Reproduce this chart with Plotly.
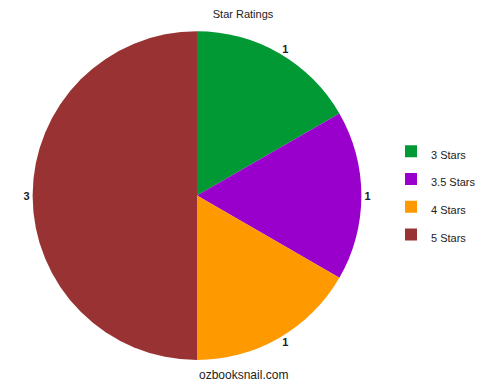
import plotly.graph_objects as go

labels = ["3 Stars", "3.5 Stars", "4 Stars", "5 Stars"]
values = [1, 1, 1, 3]
colors = ["#009933", "#9900cc", "#ff9900", "#993333"]

legend_labels = [f"<span style='font-size:11px'>{l}</span>" for l in labels]

fig = go.Figure(go.Pie(
    labels=legend_labels,
    values=values,
    marker=dict(colors=colors),
    sort=False,
    direction="clockwise",
    rotation=0,
    textposition="outside",
    texttemplate="<b>%{value}</b>",
    hovertemplate="%{label}: %{value}<extra></extra>",
    textfont=dict(family="Liberation Sans, Arial", size=11, color="#222222"),
    domain=dict(x=[0.064, 0.724], y=[0.065, 0.919]),
    showlegend=True,
))

fig.update_layout(
    width=500, height=385,
    margin=dict(l=0, r=0, t=0, b=0),
    paper_bgcolor="white",
    plot_bgcolor="white",
    title=dict(text="Star Ratings", x=0.486, xanchor="center", y=0.963, yanchor="middle",
               font=dict(family="Liberation Sans, Arial", size=11, color="#222222")),
    legend=dict(x=391/500, y=1 - 193/385, xanchor="left", yanchor="middle",
                font=dict(family="Liberation Sans, Arial", size=19, color="#222222")),
    annotations=[dict(text="ozbooksnail.com", x=0.486, y=10/385, xref="paper", yref="paper",
                      showarrow=False, xanchor="center", yanchor="middle",
                      font=dict(family="Liberation Sans, Arial", size=12, color="#222222"))],
)

fig.write_html("out.html")
